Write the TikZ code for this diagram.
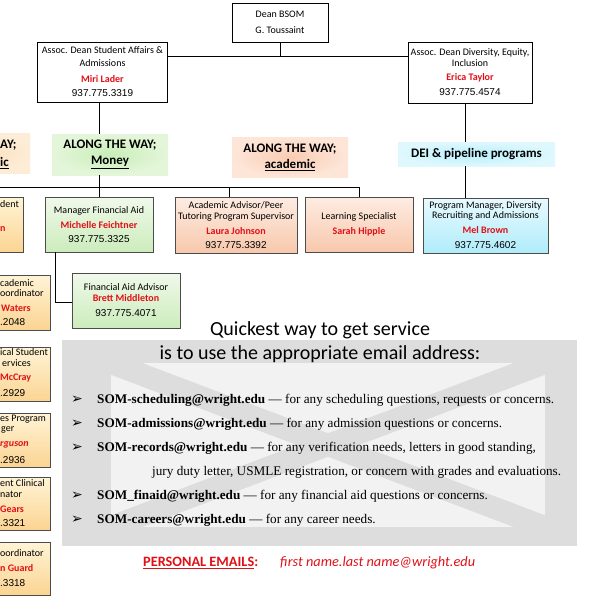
\documentclass[tikz,border=0pt]{standalone}
\usepackage{fontspec}
\setmainfont{Carlito}
\newfontfamily\arialf{Liberation Sans}
\newfontfamily\timesf{Liberation Serif}
\newfontfamily\dejavuf{DejaVu Sans}
\definecolor{namered}{RGB}{226,16,22}
\definecolor{grnA}{RGB}{240,249,234}
\definecolor{grnB}{RGB}{204,236,188}
\definecolor{pchA}{RGB}{253,236,226}
\definecolor{pchB}{RGB}{248,200,172}
\definecolor{cynA}{RGB}{232,250,255}
\definecolor{cynB}{RGB}{176,236,250}
\definecolor{ylwA}{RGB}{255,244,214}
\definecolor{ylwB}{RGB}{251,212,146}
\definecolor{lgrnI}{RGB}{200,238,184}
\definecolor{lgrnO}{RGB}{228,246,218}
\definecolor{lpchI}{RGB}{249,204,178}
\definecolor{lpchO}{RGB}{253,230,216}
\definecolor{lcynI}{RGB}{186,239,252}
\definecolor{lcynO}{RGB}{222,248,254}
\definecolor{lorgI}{RGB}{251,220,182}
\definecolor{lorgO}{RGB}{253,236,214}
\definecolor{envgray}{RGB}{221,221,221}
\definecolor{envlight}{RGB}{242,242,242}
\newcommand{\nm}[1]{{\color{namered}\bfseries #1}}
\newcommand{\ph}[1]{{\arialf\fontsize{10}{12}\selectfont #1}}
\tikzset{
  conn/.style={draw=black, line width=0.9pt},
  topbox/.style={draw=black, line width=0.9pt, align=center, inner sep=0pt, font=\fontsize{10}{13}\selectfont},
  subbox/.style={draw=black!70, line width=0.7pt, align=center, inner sep=0pt, font=\fontsize{10}{11}\selectfont},
  grnbox/.style={subbox, top color=grnA, bottom color=grnB},
  pchbox/.style={subbox, top color=pchA, bottom color=pchB},
  cynbox/.style={subbox, top color=cynA, bottom color=cynB},
  ylwbox/.style={subbox, top color=ylwA, bottom color=ylwB},
  lbl/.style={align=center, inner sep=0pt, font=\bfseries\fontsize{13}{16}\selectfont},
  frag/.style={anchor=west, inner sep=0pt, font=\fontsize{10}{12}\selectfont},
  bul/.style={anchor=center, inner sep=0pt, font=\dejavuf\fontsize{14}{16}\selectfont},
  eml/.style={anchor=west, inner sep=0pt, font=\timesf\fontsize{13.2}{15}\selectfont},
}
\begin{document}
\begin{tikzpicture}[x=1pt,y=-1pt]
\useasboundingbox (0,0) rectangle (600,600);
\clip (0,0) rectangle (600,600);
\fill[white] (0,0) rectangle (600,600);

% envelope background
\fill[envgray] (62,340) rectangle (577,546);
\begin{scope}
  \clip (111,363) rectangle (545,527);
  \fill[envlight] (111,363) rectangle (545,527);
  \draw[envgray, line width=22pt] (111,363) -- (545,527) (545,363) -- (111,527);
\end{scope}

% top level
\node[topbox, minimum width=96pt, minimum height=39pt] (dean) at (280,22.5) {Dean BSOM\\[3pt] G. Toussaint};
\node[topbox, minimum width=130pt, minimum height=60pt] (assocL) at (102.5,72) {Assoc. Dean Student Affairs \&\\ Admissions\\[3pt] \nm{Miri Lader}\\[1pt] \ph{937.775.3319}};
\node[topbox, minimum width=124pt, minimum height=61pt] (assocR) at (470,72.5) {Assoc. Dean Diversity, Equity,\\[-2pt] Inclusion\\[1pt] \nm{Erica Taylor}\\[2pt] \ph{937.775.4574}};

% labels
\node[lbl, minimum width=116pt, minimum height=40pt, inner color=lorgI, outer color=lorgO] (lblL) at (-28,153) {};
\node[frag, font=\bfseries\fontsize{13}{16}\selectfont] (lblLa) at (0,145) {AY;};
\node[frag, font=\bfseries\fontsize{13}{16}\selectfont] (lblLb) at (0,163) {\underline{ic}};
\node[lbl, minimum width=116pt, minimum height=41pt, inner color=lgrnI, outer color=lgrnO] (money) at (110,154.5) {ALONG THE WAY;\\ \underline{Money}};
\node[lbl, minimum width=116pt, minimum height=40pt, inner color=lpchI, outer color=lpchO] (acad) at (290,157) {ALONG THE WAY;\\ \underline{academic}};
\node[lbl, minimum width=157pt, minimum height=24pt, inner color=lcynI, outer color=lcynO] (dei) at (476.5,154) {DEI \& pipeline programs};

% second row
\node[ylwbox, minimum width=108pt, minimum height=55pt] (dentbox) at (-31,224.5) {};
\node[frag] (dentA) at (0,204) {dent};
\node[frag] (dentB) at (0,229) {\nm{n}};
\node[grnbox, minimum width=108pt, minimum height=55pt] (mgr) at (99,224.5) {Manager Financial Aid\\[4pt] \nm{Michelle Feichtner}\\[3pt] \ph{937.775.3325}};
\node[pchbox, minimum width=122pt, minimum height=56pt] (adv) at (236,225) {Academic Advisor/Peer\\ Tutoring Program Supervisor\\[4pt] \nm{Laura Johnson}\\[3pt] \ph{937.775.3392}};
\node[pchbox, minimum width=108pt, minimum height=55pt] (learn) at (359,224.5) {Learning Specialist\\[4pt] \nm{Sarah Hipple}};
\node[cynbox, minimum width=125pt, minimum height=55pt] (prog) at (485.5,225.5) {Program Manager, Diversity\\[-1pt] Recruiting and Admissions\\[4pt] \nm{Mel Brown}\\[4pt] \ph{937.775.4602}};
\node[grnbox, minimum width=108pt, minimum height=55pt] (fina) at (126,300.5) {Financial Aid Advisor\\ \nm{Brett Middleton}\\[4pt] \ph{937.775.4071}};

% left column (cut off)
\node[ylwbox, minimum width=120pt, minimum height=55pt] (yA) at (-10,302.5) {};
\node[frag] (yA1) at (0,283) {cademic};
\node[frag] (yA2) at (0,293) {oordinator};
\node[frag] (yA3) at (1,308) {\nm{Waters}};
\node[frag] (yA4) at (0,322) {\ph{.2048}};
\node[ylwbox, minimum width=120pt, minimum height=54pt] (yB) at (-10,374.5) {};
\node[frag] (yB1) at (0,352) {ical Student};
\node[frag] (yB2) at (2,363) {ervices};
\node[frag] (yB3) at (0,378) {\nm{McCray}};
\node[frag] (yB4) at (0,393) {\ph{.2929}};
\node[ylwbox, minimum width=120pt, minimum height=54pt] (yC) at (-10,440) {};
\node[frag] (yC1) at (0,419) {es Program};
\node[frag] (yC2) at (1,430) {ger};
\node[frag] (yC3) at (0,445) {\nm{\itshape rguson}};
\node[frag] (yC4) at (0,460) {\ph{.2936}};
\node[ylwbox, minimum width=120pt, minimum height=53pt] (yD) at (-10,503.5) {};
\node[frag] (yD1) at (0,483) {ent Clinical};
\node[frag] (yD2) at (0,494) {nator};
\node[frag] (yD3) at (0,509) {\nm{Gears}};
\node[frag] (yD4) at (0,523) {\ph{.3321}};
\node[ylwbox, minimum width=120pt, minimum height=53pt] (yE) at (-10,568.5) {};
\node[frag] (yE1) at (0,553) {oordinator};
\node[frag] (yE2) at (0,568) {\nm{n Guard}};
\node[frag] (yE3) at (0,583) {\ph{.3318}};

% connectors
\coordinate (j1) at (280,56);
\coordinate (bar) at (0,187);
\coordinate (vL) at (99,0);
\coordinate (vA) at (229,0);
\coordinate (vR) at (465,0);
\draw[conn] (dean.south) -- (dean.south |- j1);
\draw[conn] (assocL.east |- j1) -- (assocR.west |- j1);
\draw[conn] (assocL.south -| vL) -- (money.north -| vL);
\draw[conn] (money.south -| vL) -- (bar -| vL);
\draw[conn] (dentbox.north) -- (dentbox.north |- bar) -- (learn.north |- bar) -- (learn.north);
\draw[conn] (mgr.north |- bar) -- (mgr.north);
\draw[conn] (adv.north -| vA) -- (bar -| vA);
\draw[conn] (assocR.south -| vR) -- (dei.north -| vR);
\draw[conn] (dei.south -| vR) -- (prog.north -| vR);
\draw[conn] (mgr.south -| 55,0) -- (55,302) -- (fina.west |- 0,302);

% email section
\node[inner sep=0pt, font=\fontsize{20}{24}\selectfont] (q1) at (320,330) {Quickest way to get service};
\node[inner sep=0pt, font=\fontsize{20}{24}\selectfont] (q2) at (320,354) {is to use the appropriate email address:};
\node[bul] (b1) at (77,400) {➢};
\node[eml] (e1) at (97,400) {\textbf{SOM-scheduling@wright.edu} — for any scheduling questions, requests or concerns.};
\node[bul] (b2) at (77,424) {➢};
\node[eml] (e2) at (97,424) {\textbf{SOM-admissions@wright.edu} — for any admission questions or concerns.};
\node[bul] (b3) at (77,448) {➢};
\node[eml] (e3) at (97,448) {\textbf{SOM-records@wright.edu} — for any verification needs, letters in good standing,};
\node[eml] (e3b) at (152,472) {jury duty letter, USMLE registration, or concern with grades and evaluations.};
\node[bul] (b4) at (77,496) {➢};
\node[eml] (e4) at (97,496) {\textbf{SOM\_finaid@wright.edu} — for any financial aid questions or concerns.};
\node[bul] (b5) at (77,520) {➢};
\node[eml] (e5) at (97,520) {\textbf{SOM-careers@wright.edu} — for any career needs.};

\node[anchor=west, inner sep=0pt, text=namered, font=\bfseries\fontsize{14.3}{17}\selectfont] (pe) at (143,563) {\underline{PERSONAL EMAILS}:};
\node[anchor=west, inner sep=0pt, text=namered, font=\itshape\fontsize{14.3}{17}\selectfont] (fn) at (280,563) {first name.last name@wright.edu};
\end{tikzpicture}
\end{document}
